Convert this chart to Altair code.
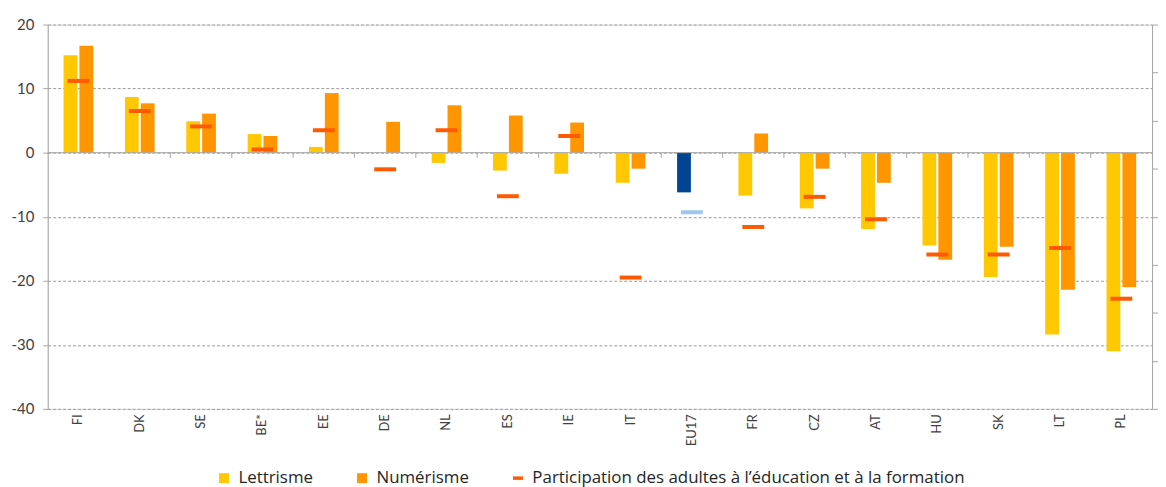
import altair as alt
import pandas as pd

countries = ["FI", "DK", "SE", "BE*", "EE", "DE", "NL", "ES", "IE", "IT",
             "EU17", "FR", "CZ", "AT", "HU", "SK", "LT", "PL"]
lettrisme = [15.2, 8.7, 4.9, 2.9, 0.9, 0.0, -1.6, -2.8, -3.3, -4.7,
             -6.2, -6.7, -8.7, -11.9, -14.5, -19.4, -28.4, -31.0]
numerisme = [16.7, 7.7, 6.1, 2.6, 9.3, 4.8, 7.4, 5.8, 4.7, -2.5,
             0.0, 3.0, -2.5, -4.7, -16.7, -14.7, -21.4, -21.0]
participation = [11.2, 6.5, 4.1, 0.5, 3.5, -2.6, 3.5, -6.8, 2.6, -19.5,
                 -9.3, -11.6, -6.9, -10.4, -15.9, -15.9, -14.9, -22.8]
y_ticks = [20, 10, 0, -10, -20, -30, -40]
right_ticks = [20, 12.5, 5, -2.5, -10, -17.5, -25, -32.5, -40]

S_L = "Lettrisme"
S_N = "Numérisme"
S_P = "Participation des adultes à l’éducation et à la formation"
K_EUB = "EU17 barre"
K_EUM = "EU17 marqueur"

rows = []
for c, l, n in zip(countries, lettrisme, numerisme):
    rows.append({"pays": c, "serie": S_L, "valeur": l, "cle": K_EUB if c == "EU17" else S_L})
    rows.append({"pays": c, "serie": S_N, "valeur": n, "cle": S_N})
bar_df = pd.DataFrame(rows)

part_df = pd.DataFrame({
    "pays": countries,
    "valeur": participation,
    "cle": [K_EUM if c == "EU17" else S_P for c in countries],
})
bound_df = pd.DataFrame({"pays": countries[1:]})
right_df = pd.DataFrame({"v": right_ticks})

FONT = "Lato"
LFONT = "Open Sans"
color_scale = alt.Scale(
    domain=[S_L, S_N, S_P, K_EUB, K_EUM],
    range=["#FFC800", "#FF9600", "#FF5A00", "#004494", "#A0C6F0"],
)
x_scale = alt.Scale(domain=countries, paddingInner=0, paddingOuter=0)
y_scale = alt.Scale(domain=[-40, 20], nice=False, zero=False)

shape_expr = ("datum.value == 'Lettrisme' || datum.value == 'Numérisme' ? "
              "'square' : 'M-1,-0.35H1V0.35H-1Z'")

bars = alt.Chart(bar_df).mark_bar(opacity=1).encode(
    x=alt.X("pays:N", sort=countries, scale=x_scale, title=None,
            axis=alt.Axis(labelAngle=-90, labelFontSize=13, labelColor="#404040",
                          labelFont=FONT, ticks=False, domain=False, labelPadding=5,
                          grid=False)),
    xOffset=alt.XOffset("serie:N", sort=[S_L, S_N],
                        scale=alt.Scale(paddingInner=0.13, paddingOuter={"expr": "1.06"})),
    y=alt.Y("valeur:Q", scale=y_scale, title=None,
            axis=alt.Axis(values=y_ticks, grid=True, gridDash=[3, 2], gridColor="#9A9A9A",
                          domainColor="#A6A6A6", tickColor="#A6A6A6", tickSize=5,
                          labelFontSize=15, labelColor="#404040", labelFont=FONT,
                          labelPadding=9,
                          labelExpr="datum.value < 0 ? '-' + abs(datum.value) : '' + datum.value")),
    color=alt.Color("cle:N", scale=color_scale,
                    legend=alt.Legend(values=[S_L, S_N, S_P], orient="none",
                                      legendX=169, legendY=448, direction="horizontal",
                                      title=None, labelFontSize=17, labelFont=LFONT,
                                      labelColor="#262626", symbolSize=100,
                                      symbolStrokeWidth=0, columnPadding=40,
                                      symbolOffset=0, labelOffset=6, labelLimit=600,
                                      symbolOpacity=1,
                                      symbolType={"expr": shape_expr})),
)

ticks = alt.Chart(part_df).mark_tick(thickness=4, size=22, orient="horizontal",
                                     opacity=1).encode(
    x=alt.X("pays:N", sort=countries, scale=x_scale),
    y=alt.Y("valeur:Q", scale=y_scale, axis=None),
    color=alt.Color("cle:N", scale=color_scale),
)

zero_line = alt.Chart(right_df.head(1)).mark_rule(color="#A6A6A6", strokeWidth=1).encode(
    x=alt.value(0), x2=alt.value(1112),
    y=alt.Y(datum=0, scale=y_scale, axis=None),
)

bounds = alt.Chart(bound_df).mark_rule(color="#A6A6A6", strokeWidth=1).encode(
    x=alt.X("pays:N", sort=countries, scale=x_scale, bandPosition=0),
    y=alt.Y(datum=0, scale=y_scale, axis=None),
    y2=alt.Y2(datum=-0.8),
)

right_axis = alt.Chart(right_df).mark_rule(opacity=0).encode(
    y=alt.Y("v:Q", scale=y_scale, title=None,
            axis=alt.Axis(orient="right", values=right_ticks, labels=False, grid=False,
                          domainColor="#A6A6A6", tickColor="#A6A6A6", tickSize=6)),
)

chart = alt.layer(bars, zero_line, bounds, ticks, right_axis).resolve_axis(
    y="independent"
).properties(
    width=1112, height=387,
    autosize=alt.AutoSizeParams(type="none"),
    padding={"left": 40, "top": 15, "right": 6, "bottom": 77},
).configure_view(stroke="transparent").configure(background="white")

chart.save("out.html", embed_options={"renderer": "svg", "actions": False})
